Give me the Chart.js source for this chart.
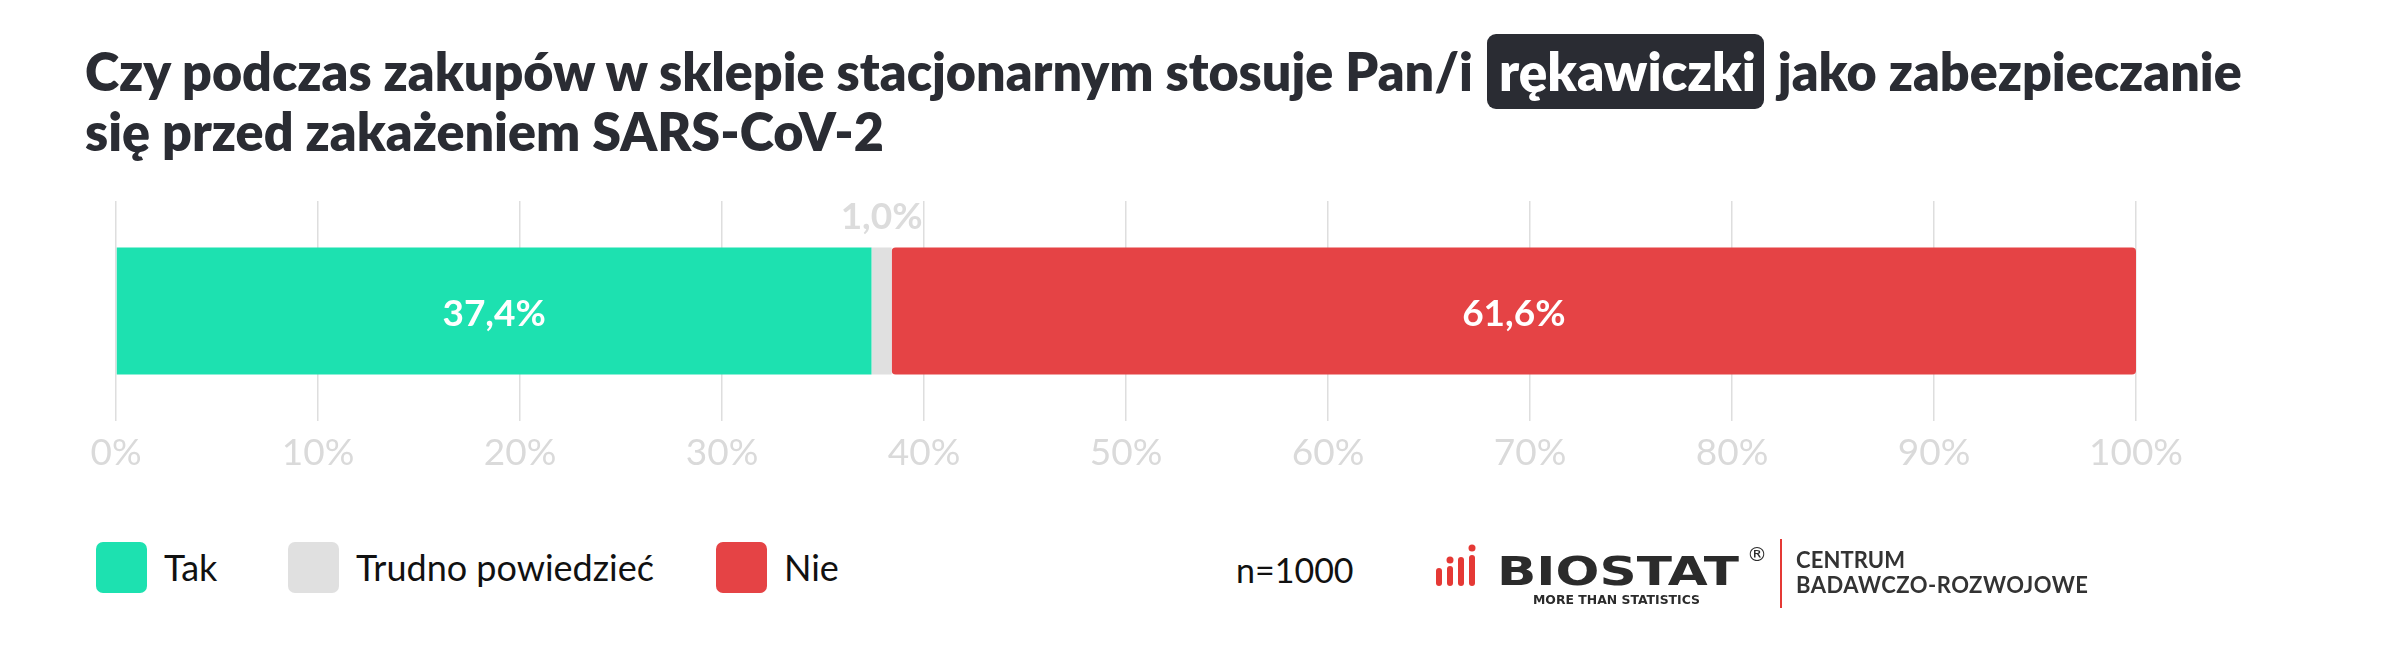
<!DOCTYPE html>
<html lang="pl">
<head>
<meta charset="utf-8">
<script src="https://cdn.jsdelivr.net/npm/chart.js@4.4.0/dist/chart.umd.min.js"></script>
<style>
  html, body { margin: 0; padding: 0; background: #fff; }
  body { width: 2383px; height: 667px; position: relative; overflow: hidden; font-family: Lato, "Noto Sans", sans-serif; }
  #title { position: absolute; left: 85px; top: 41px; font-size: 52px; line-height: 60px; font-weight: 800; color: #2a2c33; white-space: nowrap; }
  #title .hl { background: #2a2c33; color: #fff; border-radius: 9px; padding: 5px 8px 7px 12px; font-size: 53px; margin: 0 2px 0 2px; }
  #chartBox { position: absolute; left: 0; top: 180px; width: 2383px; height: 300px; }
  #legend { position: absolute; left: 96px; top: 542px; display: flex; align-items: center; }
  .lg-item { display: flex; align-items: center; }
  .lg-box { width: 51px; height: 51px; border-radius: 7px; margin-right: 17px; flex: none; }
  .lg-text { font-size: 36px; color: #111; line-height: 51px; white-space: nowrap; }
  #nval { position: absolute; left: 1236px; top: 545px; font-size: 34px; color: #111; line-height: 50px; }
  #logo { position: absolute; left: 0; top: 0; }
</style>
</head>
<body>
<div id="title">Czy podczas zakupów w sklepie stacjonarnym stosuje Pan/i <span class="hl">rękawiczki</span> jako zabezpieczanie<br>się przed zakażeniem SARS-CoV-2</div>
<div id="chartBox"><canvas id="c"></canvas></div>
<div id="legend"></div>
<div id="nval">n=1000</div>
<svg id="logo" width="2383" height="667" viewBox="0 0 2383 667">
  <g fill="#e53935">
    <rect x="1436" y="568" width="6" height="18" rx="3"/>
    <circle cx="1450" cy="560" r="3.5"/>
    <rect x="1447" y="566" width="6" height="20" rx="3"/>
    <rect x="1458" y="557" width="6" height="29" rx="3"/>
    <circle cx="1472" cy="548" r="3.5"/>
    <rect x="1469" y="555" width="6" height="31" rx="3"/>
  </g>
  <text x="1497" y="585" font-family="DejaVu Sans" font-weight="700" font-size="39" fill="#2b2b2b" textLength="242" lengthAdjust="spacingAndGlyphs">BIOSTAT</text>
  <text x="1533" y="604" font-family="DejaVu Sans" font-weight="700" font-size="12" fill="#2b2b2b" textLength="167" lengthAdjust="spacingAndGlyphs">MORE THAN STATISTICS</text>
  <text x="1747" y="561" font-family="DejaVu Sans" font-size="20" fill="#2b2b2b">®</text>
  <line x1="1781" y1="539" x2="1781" y2="608" stroke="#e53935" stroke-width="2"/>
  <text x="1796" y="568" font-family="Lato" font-weight="700" font-size="22" fill="#333" textLength="109" lengthAdjust="spacing">CENTRUM</text>
  <text x="1796" y="593" font-family="Lato" font-weight="700" font-size="22" fill="#333" textLength="292" lengthAdjust="spacing">BADAWCZO-ROZWOJOWE</text>
</svg>
<script>
// ---- data ----
const categories = ['rękawiczki'];
const seriesLabels = ['Tak', 'Trudno powiedzieć', 'Nie'];
const takValues = [37.4];
const trudnoValues = [1.0];
const nieValues = [61.6];
const tickLabels = ['0%', '10%', '20%', '30%', '40%', '50%', '60%', '70%', '80%', '90%', '100%'];
const seriesColors = ['#1de1b0', '#e0e0e0', '#e54345'];
const legendItemWidths = [192, 428, 200];

const fmt = v => v.toFixed(1).replace('.', ',') + '%';

const labelPlugin = {
  id: 'segLabels',
  afterDatasetsDraw(chart) {
    const ctx = chart.ctx;
    ctx.save();
    chart.data.datasets.forEach((ds, di) => {
      const meta = chart.getDatasetMeta(di);
      meta.data.forEach((el, i) => {
        const p = el.getProps(['x', 'y', 'base', 'height'], true);
        const w = Math.abs(p.x - p.base);
        const cx = (p.x + p.base) / 2;
        ctx.font = '700 37px Lato';
        ctx.textAlign = 'center';
        if (w > 80) {
          ctx.fillStyle = '#ffffff';
          ctx.textBaseline = 'middle';
          ctx.fillText(fmt(ds.data[i]), cx, p.y + 3);
        } else {
          ctx.fillStyle = '#dcdcdc';
          ctx.textBaseline = 'alphabetic';
          ctx.fillText(fmt(ds.data[i]), cx, p.y - p.height / 2 - 19);
        }
      });
    });
    ctx.restore();
  }
};

const dataSeries = [takValues, trudnoValues, nieValues];
const datasets = dataSeries.map((vals, k) => ({
  label: seriesLabels[k],
  data: vals,
  backgroundColor: seriesColors[k],
  borderColor: '#ffffff',
  borderWidth: 0,
  borderRadius: 4,
  borderSkipped: false,
  barPercentage: 0.577,
  categoryPercentage: 1
}));

new Chart(document.getElementById('c'), {
  type: 'bar',
  data: { labels: categories, datasets },
  options: {
    indexAxis: 'y',
    responsive: true,
    maintainAspectRatio: false,
    animation: false,
    devicePixelRatio: 1,
    layout: { padding: { left: 116, right: 247, top: 21, bottom: 0 } },
    plugins: { legend: { display: false }, tooltip: { enabled: false } },
    scales: {
      x: {
        stacked: true, min: 0, max: 100,
        ticks: {
          stepSize: 10, autoSkip: false, maxRotation: 0,
          callback: (v, i) => tickLabels[i],
          color: '#dadada', font: { family: 'Lato', size: 37 }, padding: 10
        },
        grid: { color: '#dedede', lineWidth: 1.5, drawTicks: false },
        border: { display: false },
        afterFit(scale) { scale.height = 59; }
      },
      y: { stacked: true, display: false }
    }
  },
  plugins: [labelPlugin]
});

// ---- legend (HTML, from series arrays) ----
const lg = document.getElementById('legend');
seriesLabels.forEach((name, k) => {
  const item = document.createElement('div');
  item.className = 'lg-item';
  item.style.width = legendItemWidths[k] + 'px';
  const box = document.createElement('div');
  box.className = 'lg-box';
  box.style.background = seriesColors[k];
  const t = document.createElement('span');
  t.className = 'lg-text';
  t.textContent = name;
  item.appendChild(box); item.appendChild(t);
  lg.appendChild(item);
});
</script>
</body>
</html>
